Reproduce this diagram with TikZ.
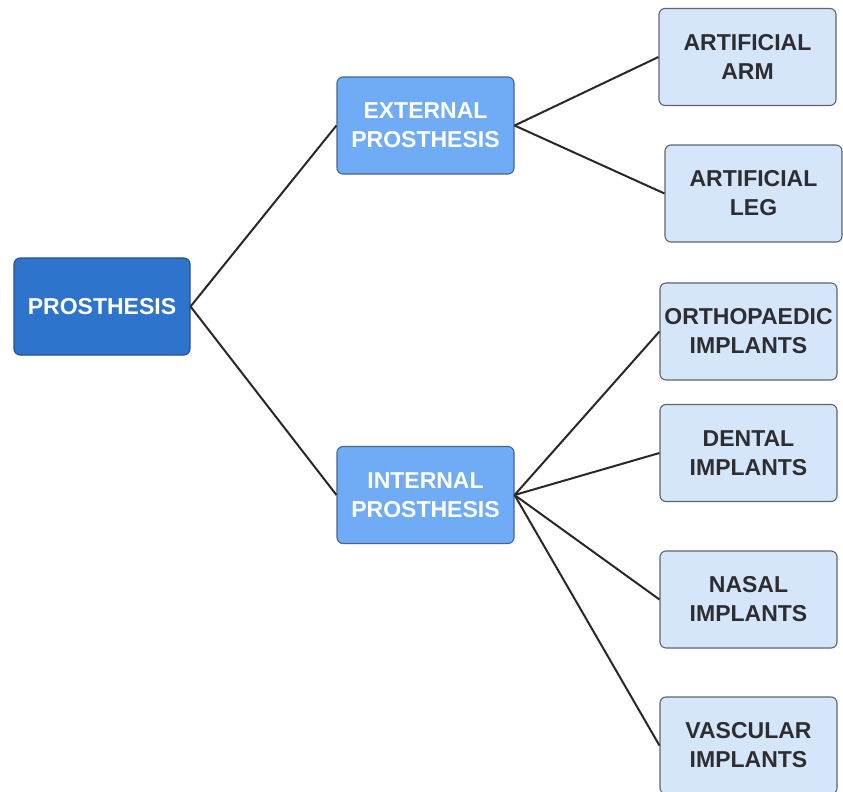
\documentclass[tikz,border=0pt]{standalone}
\usepackage{fontspec}
\setmainfont{Liberation Sans}
\definecolor{rootfill}{RGB}{47,116,204}
\definecolor{rootdraw}{RGB}{40,80,140}
\definecolor{midfill}{RGB}{112,172,245}
\definecolor{middraw}{RGB}{70,100,150}
\definecolor{leaffill}{RGB}{214,230,250}
\definecolor{leafdraw}{RGB}{95,100,110}
\definecolor{leaftext}{RGB}{45,45,50}
\definecolor{linecol}{RGB}{40,40,40}
\begin{document}
\begin{tikzpicture}[x=1pt,y=-1pt,
  box/.style={rectangle,rounded corners=6pt,line width=1.1pt,inner sep=0pt,
    align=center,font=\bfseries\fontsize{23}{29}\selectfont},
  rootbox/.style={box,fill=rootfill,draw=rootdraw,text=white,minimum width=176pt,minimum height=97pt},
  midbox/.style={box,fill=midfill,draw=middraw,text=white,minimum width=177pt,minimum height=97pt},
  leafbox/.style={box,fill=leaffill,draw=leafdraw,text=leaftext,minimum width=177pt,minimum height=97pt},
  conn/.style={draw=linecol,line width=2pt}]
\useasboundingbox (0,0) rectangle (843,792);
\fill[white] (0,0) rectangle (843,792);
\node[rootbox] (root) at (102,306.5) {PROSTHESIS};
\node[midbox] (ext) at (425.5,125.5) {EXTERNAL\\PROSTHESIS};
\node[midbox] (int) at (425.5,495) {INTERNAL\\PROSTHESIS};
\node[leafbox] (arm) at (747.5,57) {ARTIFICIAL\\ARM};
\node[leafbox] (leg) at (753.5,193.5) {ARTIFICIAL\\LEG};
\node[leafbox] (orth) at (748.5,331.5) {ORTHOPAEDIC\\IMPLANTS};
\node[leafbox] (dent) at (748.5,453) {DENTAL\\IMPLANTS};
\node[leafbox] (nas) at (748.5,599.5) {NASAL\\IMPLANTS};
\node[leafbox] (vasc) at (748.5,745.5) {VASCULAR\\IMPLANTS};
\draw[conn] (root.east) -- (ext.west);
\draw[conn] (root.east) -- (int.west);
\draw[conn] (ext.east) -- (arm.west);
\draw[conn] (ext.east) -- (leg.west);
\draw[conn] (int.east) -- (orth.west);
\draw[conn] (int.east) -- (dent.west);
\draw[conn] (int.east) -- (nas.west);
\draw[conn] (int.east) -- (vasc.west);
\end{tikzpicture}
\end{document}
